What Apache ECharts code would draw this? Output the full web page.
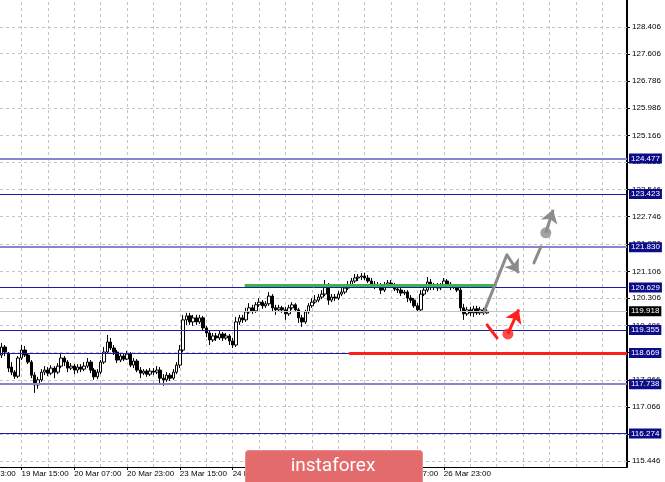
<!DOCTYPE html>
<html>
<head>
<meta charset="utf-8">
<script src="https://cdn.jsdelivr.net/npm/echarts@6/dist/echarts.min.js"></script>
<style>
html,body{margin:0;padding:0;background:#fff;}
#chart{width:665px;height:482px;}
</style>
</head>
<body>
<div id="chart"></div>
<script>
// ---- data ----
// hourly slots; slot 0 of the visible axis = 19 Mar 09:00; labels every 16 slots starting at slot 6
const xTickLabels = ['19 Mar 15:00','20 Mar 07:00','20 Mar 23:00','23 Mar 15:00','24 Mar 07:00','24 Mar 23:00','25 Mar 15:00','26 Mar 07:00','26 Mar 23:00'];
const clippedLeftLabel = '18 Mar 23:00';   // sits 16 slots before the first label, mostly off-canvas
const slotCount = 190;
const firstLabelSlot = 6;
const yTicks = [128.406,127.606,126.786,125.986,125.166,124.366,123.546,122.746,121.926,121.106,120.306,119.486,118.686,117.866,117.066,116.246,115.446];
const levels = [124.477,123.423,121.830,120.629,119.355,118.669,117.738,116.274];
const levelHeavy = [true,false,true,false,false,false,true,false];
const currentPrice = 119.918;
// [open, close, low, high]
const candles = [
[118.61,118.85,118.52,118.97],[118.85,118.70,118.58,118.91],[118.67,118.22,118.10,118.70],[118.25,118.10,118.01,118.40],
[118.10,117.98,117.90,118.16],[117.98,118.52,117.92,118.58],[118.52,118.76,118.46,118.91],[118.76,118.61,118.55,118.88],
[118.61,118.40,118.34,118.67],[118.40,118.01,117.92,118.46],[118.01,117.72,117.48,118.10],[117.72,117.87,117.60,117.96],
[117.87,118.10,117.81,118.19],[118.10,118.16,118.01,118.28],[118.16,118.07,117.98,118.25],[118.07,118.22,118.01,118.31],
[118.22,118.10,117.92,118.28],[118.10,118.28,118.04,118.37],[118.28,118.52,118.22,118.67],[118.52,118.40,118.28,118.58],
[118.40,118.22,118.10,118.46],[118.22,118.28,118.16,118.37],[118.28,118.16,118.04,118.34],[118.16,118.25,118.07,118.34],
[118.25,118.19,118.10,118.34],[118.19,118.28,118.13,118.40],[118.28,118.40,118.22,118.52],[118.40,118.16,118.07,118.46],
[118.16,117.96,117.87,118.22],[117.96,118.10,117.89,118.19],[118.10,118.40,118.04,118.46],[118.40,118.70,118.34,118.85],
[118.70,119.00,118.64,119.21],[119.00,118.82,118.76,119.12],[118.82,118.70,118.61,118.91],[118.70,118.46,118.37,118.76],
[118.46,118.58,118.40,118.67],[118.58,118.49,118.43,118.64],[118.49,118.64,118.46,118.73],[118.64,118.31,118.25,118.70],
[118.31,118.43,118.22,118.52],[118.43,118.16,118.10,118.49],[118.16,118.07,117.92,118.25],[118.07,118.13,118.01,118.19],
[118.13,118.04,117.96,118.19],[118.04,118.13,117.98,118.22],[118.13,118.10,118.01,118.22],[118.10,118.16,118.04,118.28],
[118.16,117.92,117.72,118.25],[117.92,117.87,117.69,118.04],[117.87,118.01,117.81,118.10],[118.01,117.92,117.84,118.07],
[117.92,118.10,117.87,118.19],[118.10,118.31,118.04,118.40],[118.31,118.76,118.22,118.91],[118.76,119.66,118.70,119.81],
[119.66,119.78,119.51,119.87],[119.78,119.60,119.51,119.87],[119.60,119.72,119.48,119.81],[119.72,119.60,119.51,119.81],
[119.60,119.72,119.54,119.81],[119.72,119.42,119.33,119.78],[119.42,119.27,119.15,119.48],[119.27,119.06,118.91,119.33],
[119.06,119.18,119.00,119.27],[119.18,119.12,119.03,119.27],[119.12,119.24,119.06,119.33],[119.24,119.12,119.03,119.30],
[119.12,119.18,119.06,119.27],[119.18,119.03,118.91,119.24],[119.03,118.91,118.82,119.12],[118.91,119.60,118.85,119.75],
[119.60,119.72,119.51,119.81],[119.72,119.66,119.57,119.81],[119.66,119.90,119.60,120.02],[119.90,120.02,119.84,120.16],
[120.02,119.93,119.84,120.11],[119.93,120.11,119.87,120.19],[120.11,120.19,120.05,120.31],[120.19,120.08,119.99,120.25],
[120.08,120.14,120.02,120.22],[120.14,120.37,120.08,120.49],[120.37,120.02,119.90,120.43],[120.02,119.96,119.81,120.11],
[119.96,120.02,119.90,120.11],[120.02,119.96,119.87,120.08],[119.96,119.84,119.66,120.05],[119.84,120.02,119.78,120.11],
[120.02,120.11,119.96,120.19],[120.11,119.96,119.90,120.16],[119.96,119.72,119.57,120.02],[119.72,119.60,119.45,119.81],
[119.60,119.90,119.54,119.96],[119.90,120.08,119.84,120.16],[120.08,120.19,120.02,120.31],[120.19,120.25,120.14,120.40],
[120.25,120.34,120.19,120.43],[120.34,120.43,120.28,120.55],[120.43,120.70,120.37,120.85],[120.70,120.25,120.11,120.76],
[120.25,120.34,120.19,120.43],[120.34,120.31,120.22,120.43],[120.31,120.43,120.25,120.52],[120.43,120.49,120.37,120.61],
[120.49,120.61,120.43,120.70],[120.61,120.70,120.55,120.82],[120.70,120.82,120.64,120.91],[120.82,120.91,120.76,121.03],
[120.91,120.94,120.82,121.03],[120.94,120.97,120.85,121.06],[120.97,120.91,120.85,121.06],[120.91,120.82,120.76,121.00],
[120.82,120.73,120.67,120.91],[120.73,120.67,120.58,120.82],[120.67,120.70,120.61,120.79],[120.70,120.55,120.43,120.76],
[120.55,120.70,120.49,120.79],[120.70,120.76,120.64,120.85],[120.76,120.70,120.64,120.85],[120.70,120.58,120.52,120.76],
[120.58,120.55,120.46,120.67],[120.55,120.46,120.37,120.61],[120.46,120.49,120.40,120.55],[120.49,120.31,120.19,120.55],
[120.31,120.25,120.16,120.40],[120.25,120.08,120.02,120.31],[120.08,119.96,119.90,120.16],[119.96,120.43,119.93,120.55],
[120.43,120.55,120.37,120.64],[120.55,120.79,120.49,120.94],[120.79,120.64,120.55,120.88],[120.64,120.70,120.55,120.76],
[120.70,120.61,120.52,120.76],[120.61,120.70,120.55,120.76],[120.70,120.82,120.64,120.91],[120.82,120.73,120.64,120.88],
[120.73,120.64,120.55,120.79],[120.64,120.67,120.58,120.73],[120.67,120.55,120.49,120.73],[120.55,120.02,119.90,120.64],
[120.02,119.84,119.66,120.14],[119.84,119.96,119.78,120.05],[119.96,119.87,119.78,120.05],[119.87,119.99,119.75,120.08],
[119.99,119.87,119.81,120.08],[119.87,119.96,119.81,120.05],[119.96,119.87,119.81,120.02],[119.87,119.918,119.84,119.99]
];
// forecast drawing objects, [slot, price]
const resistanceLine = [[74.0,120.70],[149.2,120.70]];
const supportLine = [[105.6,118.669],[189.5,118.669]];
const grayPathUp = [[146.2,119.90],[153.1,121.60]];
const grayPathDown = [[153.1,121.60],[156.7,121.06]];
const grayDash = [[161.3,121.36],[163.4,121.84]];
const grayDot = [164.9,122.26];
const grayArrow = [[164.9,122.26],[167.1,122.95]];
const redSeg = [[147.1,119.51],[150.1,119.12]];
const redDot = [153.4,119.24];
const redArrow = [[153.4,119.24],[156.7,119.97]];

// ---- build ----
const categories = Array.from({length: slotCount}, (_, i) => String(i));
const lastLabelSlot = firstLabelSlot + (xTickLabels.length - 1) * 16;
const isLabelSlot = (idx) => idx >= firstLabelSlot && (idx - firstLabelSlot) % 16 === 0 && idx <= lastLabelSlot;
const FONT = 'Liberation Sans';
const GRAY = '#8c8c8c', RED = '#ff1e1e', GREEN = '#3cb44b', NAVY = '#0c0c8a';

const gridMarks = [];
yTicks.forEach(v => gridMarks.push({yAxis: v}));
for (let i = firstLabelSlot % 8; i < slotCount; i += 8) gridMarks.push({xAxis: i});

const levelMarks = levels.map((v, i) => ({
  yAxis: v,
  lineStyle: {color: levelHeavy[i] ? '#8686cc' : '#1a1aa6', width: levelHeavy[i] ? 2 : 1, type: 'solid'},
  label: {formatter: v.toFixed(3)}
}));
levelMarks.unshift({
  yAxis: currentPrice,
  lineStyle: {color: '#c4c4c4', width: 1, type: 'solid'},
  label: {formatter: currentPrice.toFixed(3), backgroundColor: '#000'}
});

const chart = echarts.init(document.getElementById('chart'), null, {renderer: 'canvas'});
chart.setOption({
  animation: false,
  backgroundColor: '#ffffff',
  grid: {left: 0, right: 38, top: 0, bottom: 15},
  xAxis: [{
    type: 'category', data: categories, boundaryGap: true,
    axisLine: {show: true, onZero: false, lineStyle: {color: '#000', width: 1}},
    axisTick: {show: true, alignWithLabel: true, length: 3, lineStyle: {color: '#000'},
      interval: (idx) => isLabelSlot(idx)},
    axisLabel: {show: true, align: 'left', margin: 3, fontSize: 8, fontFamily: FONT, color: '#000',
      interval: (idx) => isLabelSlot(idx),
      formatter: (val, idx) => xTickLabels[(idx - firstLabelSlot) / 16] || ''},
    splitLine: {show: false}
  }, {
    type: 'value', min: -0.5, max: slotCount - 0.5, show: false
  }],
  yAxis: [{
    type: 'value', position: 'right', min: 115.267, max: 129.212, scale: true,
    axisLine: {show: true, onZero: false, lineStyle: {color: '#000', width: 2}},
    axisTick: {show: true, length: 3, customValues: yTicks, lineStyle: {color: '#000'}},
    axisLabel: {show: true, customValues: yTicks, margin: 5, fontSize: 8, fontFamily: FONT, color: '#000',
      formatter: (v) => Number(v).toFixed(3)},
    splitLine: {show: false}
  }],
  series: [{
    type: 'candlestick', xAxisIndex: 0, yAxisIndex: 0, z: 3,
    data: candles, barWidth: 3,
    itemStyle: {color: '#ffffff', color0: '#000000', borderColor: '#000000', borderColor0: '#000000', borderWidth: 1},
    markLine: {
      silent: true, symbol: ['none', 'none'], z: 4, animation: false,
      label: {show: true, position: 'end', distance: 2, color: '#fff', backgroundColor: NAVY,
        fontSize: 8, fontFamily: FONT, padding: [1, 2, 0, 2], lineHeight: 9},
      data: levelMarks
    }
  }, {
    type: 'scatter', xAxisIndex: 1, yAxisIndex: 0, z: 12,
    symbolSize: 11,
    data: [
      {value: grayDot, itemStyle: {color: GRAY}},
      {value: redDot, itemStyle: {color: RED}}
    ],
    markLine: {
      silent: true, symbol: ['none', 'none'], z: 1, animation: false,
      label: {show: false},
      lineStyle: {color: '#c4c4c4', width: 1, type: [3, 3]},
      data: gridMarks
    }
  }, {
    type: 'lines', coordinateSystem: 'cartesian2d', xAxisIndex: 1, yAxisIndex: 0, z: 10,
    symbol: ['none', 'none'],
    data: [
      {coords: resistanceLine, lineStyle: {color: GREEN, width: 3}},
      {coords: supportLine, lineStyle: {color: RED, width: 3}},
      {coords: grayPathUp, lineStyle: {color: GRAY, width: 3}},
      {coords: grayDash, lineStyle: {color: GRAY, width: 3}},
      {coords: redSeg, lineStyle: {color: RED, width: 3}}
    ],
    lineStyle: {opacity: 1, curveness: 0, cap: 'round'}
  }, {
    type: 'lines', coordinateSystem: 'cartesian2d', xAxisIndex: 1, yAxisIndex: 0, z: 11,
    symbol: ['none', 'arrow'], symbolSize: 13,
    data: [
      {coords: grayPathDown, lineStyle: {color: GRAY, width: 3}},
      {coords: grayArrow, lineStyle: {color: GRAY, width: 3}},
      {coords: redArrow, lineStyle: {color: RED, width: 3}}
    ],
    lineStyle: {opacity: 1, curveness: 0}
  }]
});

// the partly clipped first time label, placed through the axis scale (16 slots before the first label)
const clippedPos = chart.convertToPixel({xAxisIndex: 1}, firstLabelSlot - 16);
const axisY = chart.convertToPixel({yAxisIndex: 0}, 115.267);
chart.setOption({
  graphic: [{
    type: 'text', z: 50, x: clippedPos, y: axisY + 3,
    style: {text: clippedLeftLabel, fill: '#000', font: '8px "Liberation Sans"', align: 'left', verticalAlign: 'top'}
  }, {
    type: 'rect', left: 245, top: 450, z: 100,
    shape: {width: 177, height: 40, r: 3},
    style: {fill: '#e36b6b', stroke: '#ea8a8a', lineWidth: 1}
  }, {
    type: 'text', z: 101, x: 333, y: 466,
    style: {text: 'instaforex', fill: '#ffffff', font: '19px Roboto', align: 'center', verticalAlign: 'middle'}
  }]
});
</script>
</body>
</html>
